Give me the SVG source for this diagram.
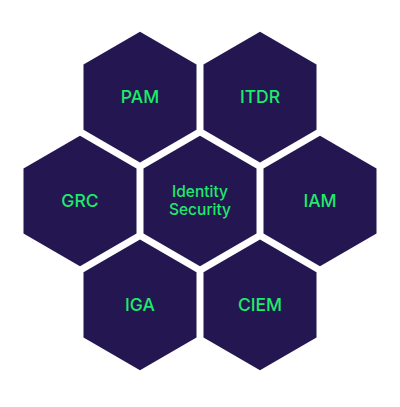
<svg xmlns="http://www.w3.org/2000/svg" xmlns:xlink="http://www.w3.org/1999/xlink" width="400" height="407" viewBox="0 0 400 407">
  <style>
    .hex { fill: #231651; }
    .lbl { fill: #1eea6c; font-family: Inter, "Liberation Sans", sans-serif; font-weight: 500; text-anchor: middle; }
    .big { font-size: 17.5px; }
    .small { font-size: 15.5px; }
  </style>
  <defs>
    <polygon id="hexshape" class="hex" points="0,-65.3 56.5,-32.6 56.5,32.6 0,65.3 -56.5,32.6 -56.5,-32.6"/>
  </defs>
  <rect width="400" height="407" fill="#ffffff"/>
  <g id="connectors"/>
  <g id="pam">
    <use xlink:href="#hexshape" href="#hexshape" transform="translate(140,97.1)"/>
    <text class="lbl big" x="140" y="103">PAM</text>
  </g>
  <g id="itdr">
    <use xlink:href="#hexshape" href="#hexshape" transform="translate(260,97.1)"/>
    <text class="lbl big" x="260" y="103">ITDR</text>
  </g>
  <g id="grc">
    <use xlink:href="#hexshape" href="#hexshape" transform="translate(80,201)"/>
    <text class="lbl big" x="80" y="207">GRC</text>
  </g>
  <g id="identity-security">
    <use xlink:href="#hexshape" href="#hexshape" transform="translate(200,201)"/>
    <text class="lbl small" x="200" y="196.5">Identity</text>
    <text class="lbl small" x="200" y="214.5">Security</text>
  </g>
  <g id="iam">
    <use xlink:href="#hexshape" href="#hexshape" transform="translate(320,201)"/>
    <text class="lbl big" x="320" y="207">IAM</text>
  </g>
  <g id="iga">
    <use xlink:href="#hexshape" href="#hexshape" transform="translate(140,304.9)"/>
    <text class="lbl big" x="140" y="311">IGA</text>
  </g>
  <g id="ciem">
    <use xlink:href="#hexshape" href="#hexshape" transform="translate(260,304.9)"/>
    <text class="lbl big" x="260" y="311">CIEM</text>
  </g>
</svg>
